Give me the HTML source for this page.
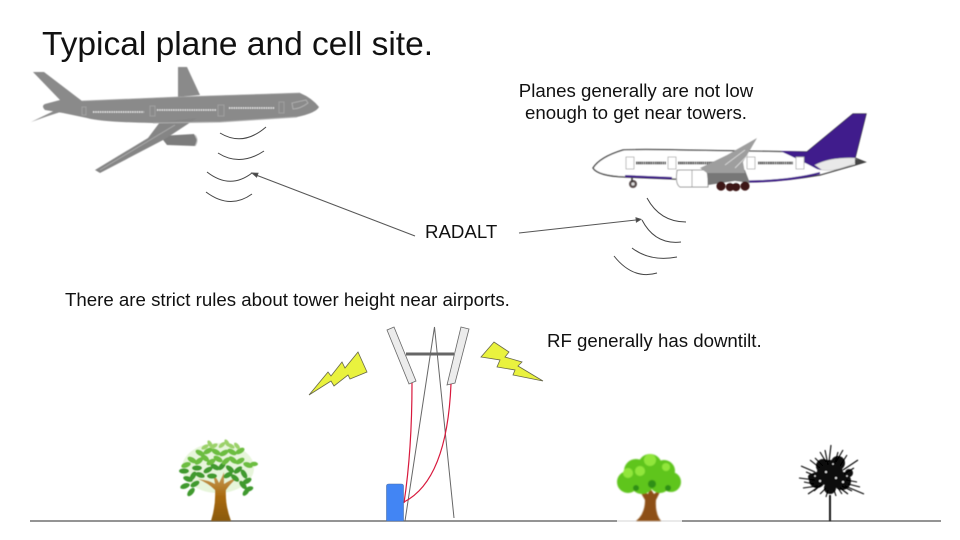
<!DOCTYPE html>
<html><head><meta charset="utf-8"><style>
html,body{margin:0;padding:0;background:#fff}
svg{display:block}
text{font-family:"Liberation Sans",sans-serif;fill:#111}
</style></head><body>
<svg width="960" height="540" viewBox="0 0 960 540" xmlns="http://www.w3.org/2000/svg">
<defs>
<filter id="b" x="-5%" y="-5%" width="110%" height="110%"><feGaussianBlur stdDeviation="0.45"/></filter>
<filter id="b2" x="-5%" y="-5%" width="110%" height="110%"><feGaussianBlur stdDeviation="0.8"/></filter>
<linearGradient id="trunk" x1="0" x2="0" y1="0" y2="1"><stop offset="0" stop-color="#c9a05c"/><stop offset=".5" stop-color="#a9690f"/><stop offset="1" stop-color="#8a5a10"/></linearGradient>
</defs>
<rect width="960" height="540" fill="#fff"/>
<text x="42" y="55" font-size="33.5">Typical plane and cell site.</text>
<text x="636" y="97" font-size="18.67" text-anchor="middle">Planes generally are not low</text>
<text x="636" y="119" font-size="18.67" text-anchor="middle">enough to get near towers.</text>
<text x="425" y="238" font-size="18.67">RADALT</text>
<text x="65" y="306" font-size="18.67">There are strict rules about tower height near airports.</text>
<text x="547" y="347" font-size="18.67">RF generally has downtilt.</text>

<!-- left plane -->
<g filter="url(#b)">
<path d="M33 72 L44 72 L82 101 L178 97 L300 93 Q312 98 319 107 Q316 113 297 117 L220 122 L153 123 Q100 122 87 118 L63 113 L45 110 Q41 106 45 104 L60 100 Z" fill="#8a8a8a"/>
<path d="M178 67 L187 67 L200 95 L178 97 Z" fill="#8a8a8a"/>
<path d="M43 105 L73 108 L48 116 L31 122 L58 109 Z" fill="#8a8a8a"/>
<path d="M160 136 L194 134 L197 140 L195 146 L167 145 Z" fill="#7c7c7c"/>
<path d="M197 118 L160 122 L148 138 L95 170 L100 173 L165 139 Z" fill="#858585"/>
<path d="M100 170 L155 137 L175 125" stroke="#a9a9a9" stroke-width="1" fill="none"/>
<path d="M195 135 Q199 140 195 146" stroke="#bbb" stroke-width="1" fill="none"/>
<path d="M93 112 H144 M157 110 H216 M229 108 H275" stroke="#f2f2f2" stroke-width="1.5" stroke-dasharray="1.4 .9" fill="none"/>
<path d="M82 107 h4 v8 h-4z M150 106 h5 v10 h-5z M218 105 h6 v11 h-6z M279 102 h5 v11 h-5z" stroke="#a5a5a5" stroke-width=".8" fill="none"/>
<path d="M293 109 L292 103 L306 100 L308 103 Q300 109 293 109Z" stroke="#b5b5b5" stroke-width=".8" fill="none"/>
<path d="M153 123 L220 122 L297 117" stroke="#b0b0b0" stroke-width="1" fill="none"/>
<path d="M82 101 L178 97 L300 93" stroke="#a5a5a5" stroke-width=".7" fill="none"/>
</g>

<!-- radio arcs -->
<g fill="none" stroke="#444" stroke-width="1">
<path d="M220 133 Q243 147 266 127"/>
<path d="M218 153 Q240 167 264 151"/>
<path d="M207 172 Q230 190 252 173"/>
<path d="M206 192 Q230 210 252 194"/>
<path d="M647 198 Q660 222 686 222"/>
<path d="M642 220 Q655 245 681 242"/>
<path d="M632 248 Q650 262 677 257"/>
<path d="M614 256 Q633 280 657 273"/>
</g>

<!-- arrows -->
<g stroke="#555" stroke-width="1" fill="#444">
<line x1="415" y1="236" x2="256" y2="175"/>
<path d="M252 173 L258 173.2 L256.6 177 Z"/>
<line x1="519" y1="233" x2="636" y2="220"/>
<path d="M641 219.3 L636 217.8 L636.4 222 Z"/>
</g>

<!-- right plane -->
<g filter="url(#b)">
<path d="M807 152 L853 114 L866 114 L855 158 L865 162 L855 165 L820 175 Q780 182 747 182 L625 177 Q598 176 593 168 Q600 157 623 150 Q640 149 680 150 L807 152Z" fill="#fff" stroke="#333" stroke-width="1.2"/>
<path d="M780 151 L807 152 L853 114 L866 114 L855 158 Q825 175 815 168 Q800 160 780 151Z" fill="#3f1a8c"/>
<path d="M815 165 Q830 157 855 158 L855 163 Q835 172 822 170 Z" fill="#e9e9e9" stroke="#bbb" stroke-width=".6"/>
<path d="M855 159 L866 162 L855 165 Z" fill="#444"/>
<path d="M625 176 L672 178 M745 181.5 Q790 181 820 173" stroke="#3f1a8c" stroke-width="2" fill="none"/>
<path d="M636 163 H666 M678 163 H720 M758 163 H793" stroke="#111" stroke-width="3" stroke-dasharray="1.3 .6" fill="none"/>
<path d="M626 157 h8 v12 h-8z M668 157 h8 v12 h-8z M747 157 h8 v12 h-8z M796 157 h8 v12 h-8z" fill="#fff" stroke="#aaa" stroke-width=".8"/>
<path d="M707 169 h40 v14 h-40z" fill="#fff" stroke="none"/>
<path d="M677 171 Q676 170 680 170 H705 Q708 172 708 178 V187 H680 Q675 184 677 171Z" fill="#fff" stroke="#999" stroke-width="1"/>
<path d="M692 170 V187" stroke="#999" stroke-width=".8"/>
<path d="M707 173 L725 165 L745 170 L750 183 L735 181 L708 185Z" fill="#777"/>
<path d="M700 168 L727 155 L757 138 L743 162 L745 173 L707 173Z" fill="#9e9e9e"/>
<path d="M725 165 L745 150 M735 168 L748 155" stroke="#d5d5d5" stroke-width="1" fill="none"/>
<circle cx="633" cy="184" r="4" fill="#5a5050"/><circle cx="633" cy="184" r="1.6" fill="#ddd"/>
<path d="M632 178 V182" stroke="#333" stroke-width="1.5"/>
<g fill="#3c1414"><circle cx="721" cy="186" r="4.6"/><circle cx="730" cy="187" r="4.2"/><circle cx="736" cy="187" r="4.2"/><circle cx="745" cy="186" r="4.6"/></g>
</g>

<!-- ground -->
<line x1="30" y1="521" x2="941" y2="521" stroke="#555" stroke-width="1.2"/>

<!-- tower -->
<polygon points="387,330 394,327 416,381 409,384" fill="#ececec" stroke="#666" stroke-width=".8"/>
<polygon points="461,327 469,329 455,383 447,385" fill="#ececec" stroke="#666" stroke-width=".8"/>
<line x1="406" y1="354" x2="454" y2="354" stroke="#666" stroke-width="3"/>
<path d="M405 521 L434.5 327 L454 518" fill="none" stroke="#666" stroke-width="1"/>
<path d="M412 383 Q412 450 404 503" fill="none" stroke="#d8183c" stroke-width="1.2"/>
<path d="M451 384 Q447 480 404 502" fill="none" stroke="#d8183c" stroke-width="1.2"/>
<path d="M386.5 521 V486 Q386.5 484 389 484 H401 Q403.5 484 403.5 486 V521Z" fill="#4285f4" stroke="#4a6fa8" stroke-width=".6"/>

<!-- lightning -->
<polygon points="309,395 328,372 331,376 342,362 345,368 358,352 367,372 350,379 348,375 334,386 331,381" fill="#e9f23e" stroke="#66664a" stroke-width=".8"/>
<polygon points="481,357 494,342 509,352 505,357 522,362 518,366 543,381 513,375 515,370 497,367 500,360" fill="#e9f23e" stroke="#66664a" stroke-width=".8"/>

<!-- tree 1 -->
<g filter="url(#b)">
<ellipse cx="218" cy="468" rx="36" ry="25" fill="#c9e8b0" opacity=".45"/>
<path d="M211 521 Q216 505 215 490 Q208 483 198 479 Q208 480 215 484 Q214 477 212 473 Q217 478 219 483 Q222 477 224 472 Q224 479 224 484 Q230 480 238 477 Q230 484 226 490 Q225 505 231 521Z" fill="url(#trunk)"/>
<g fill="#3f9a2f">
<ellipse cx="188" cy="479" rx="5" ry="2.6" transform="rotate(20 188 479)"/><ellipse cx="185" cy="486" rx="5" ry="2.6" transform="rotate(-20 185 486)"/><ellipse cx="191" cy="492" rx="5" ry="2.6" transform="rotate(-50 191 492)"/><ellipse cx="195" cy="484" rx="5" ry="2.6" transform="rotate(-30 195 484)"/><ellipse cx="193" cy="476" rx="5" ry="2.6" transform="rotate(-60 193 476)"/><ellipse cx="200" cy="475" rx="5" ry="2.6" transform="rotate(20 200 475)"/><ellipse cx="197" cy="468" rx="5" ry="2.6"/><ellipse cx="184" cy="471" rx="5" ry="2.6"/><ellipse cx="208" cy="470" rx="5" ry="2.6" transform="rotate(-30 208 470)"/><ellipse cx="215" cy="467" rx="5" ry="2.6" transform="rotate(30 215 467)"/><ellipse cx="222" cy="466" rx="5" ry="2.6" transform="rotate(-50 222 466)"/><ellipse cx="230" cy="469" rx="5" ry="2.6" transform="rotate(40 230 469)"/><ellipse cx="238" cy="470" rx="5" ry="2.6" transform="rotate(-40 238 470)"/><ellipse cx="244" cy="474" rx="5" ry="2.6" transform="rotate(60 244 474)"/><ellipse cx="247" cy="481" rx="5" ry="2.6" transform="rotate(-30 247 481)"/><ellipse cx="243" cy="485" rx="5" ry="2.6" transform="rotate(50 243 485)"/><ellipse cx="249" cy="489" rx="4.5" ry="2.4" transform="rotate(-20 249 489)"/><ellipse cx="246" cy="492" rx="4.5" ry="2.4" transform="rotate(-50 246 492)"/><ellipse cx="235" cy="478" rx="5" ry="2.6" transform="rotate(40 235 478)"/><ellipse cx="212" cy="476" rx="5" ry="2.6"/><ellipse cx="228" cy="475" rx="5" ry="2.6" transform="rotate(-30 228 475)"/>
</g>
<g fill="#6cbd3f">
<ellipse cx="186" cy="465" rx="5" ry="2.6" transform="rotate(-20 186 465)"/><ellipse cx="192" cy="460" rx="5" ry="2.6" transform="rotate(30 192 460)"/><ellipse cx="199" cy="461" rx="5" ry="2.6" transform="rotate(-40 199 461)"/><ellipse cx="205" cy="458" rx="5" ry="2.6" transform="rotate(40 205 458)"/><ellipse cx="211" cy="462" rx="5" ry="2.6" transform="rotate(-30 211 462)"/><ellipse cx="218" cy="459" rx="5" ry="2.6" transform="rotate(30 218 459)"/><ellipse cx="226" cy="461" rx="5" ry="2.6" transform="rotate(-40 226 461)"/><ellipse cx="233" cy="460" rx="5" ry="2.6" transform="rotate(40 233 460)"/><ellipse cx="240" cy="461" rx="5" ry="2.6" transform="rotate(-30 240 461)"/><ellipse cx="248" cy="465" rx="5" ry="2.6" transform="rotate(20 248 465)"/><ellipse cx="254" cy="464" rx="4" ry="2.2"/>
<ellipse cx="200" cy="453" rx="5" ry="2.6" transform="rotate(30 200 453)"/><ellipse cx="208" cy="451" rx="5" ry="2.6" transform="rotate(-30 208 451)"/><ellipse cx="216" cy="452" rx="5" ry="2.6" transform="rotate(30 216 452)"/><ellipse cx="224" cy="453" rx="5" ry="2.6" transform="rotate(-30 224 453)"/><ellipse cx="232" cy="452" rx="5" ry="2.6" transform="rotate(30 232 452)"/><ellipse cx="240" cy="451" rx="5" ry="2.6" transform="rotate(-30 240 451)"/>
</g>
<g fill="#9bd16a">
<ellipse cx="205" cy="447" rx="4" ry="2" transform="rotate(-30 205 447)"/><ellipse cx="210" cy="444" rx="4" ry="2" transform="rotate(60 210 444)"/><ellipse cx="214" cy="446" rx="4" ry="2" transform="rotate(-30 214 446)"/><ellipse cx="222" cy="445" rx="4" ry="2" transform="rotate(-40 222 445)"/><ellipse cx="227" cy="443" rx="4" ry="2" transform="rotate(60 227 443)"/><ellipse cx="231" cy="446" rx="4" ry="2" transform="rotate(30 231 446)"/><ellipse cx="237" cy="446" rx="4" ry="2" transform="rotate(50 237 446)"/>
</g>
</g>

<!-- tree 2 -->
<line x1="617" y1="521" x2="682" y2="521" stroke="#f2f2f2" stroke-width="1.6"/>
<g filter="url(#b2)">
<path d="M636 521 Q645 514 645 500 L638 488 L648 494 L650 488 L654 494 L662 488 L656 500 Q655 514 661 521Z" fill="#8d4f12"/>
<g fill="#5fc51e">
<circle cx="628" cy="482" r="11"/><circle cx="636" cy="471" r="12"/><circle cx="650" cy="466" r="12"/><circle cx="664" cy="471" r="11"/><circle cx="671" cy="482" r="10"/><circle cx="660" cy="482" r="11"/><circle cx="642" cy="482" r="12"/>
</g>
<g fill="#91e63a"><circle cx="628" cy="473" r="5"/><circle cx="650" cy="460" r="6"/><circle cx="640" cy="471" r="5"/><circle cx="666" cy="467" r="4"/></g>
<g fill="#2f8f14"><circle cx="652" cy="484" r="4"/><circle cx="668" cy="488" r="3"/><circle cx="636" cy="488" r="3"/></g>
</g>

<!-- tree 3 -->
<g filter="url(#b)">
<path d="M830 521 V495" stroke="#000" stroke-width="1.8"/>
<g fill="#0a0a0a">
<circle cx="830" cy="473" r="13"/><circle cx="817" cy="480" r="8"/><circle cx="842" cy="481" r="9"/><circle cx="823" cy="466" r="7"/><circle cx="838" cy="463" r="7"/><circle cx="830" cy="488" r="6"/><circle cx="849" cy="473" r="4"/><circle cx="811" cy="477" r="3"/>
</g>
<g stroke="#000" stroke-width="1.1" fill="none">
<path d="M831 445 L829 462 M825 450 L828 465 M838 452 L834 466 M801 466 L815 472 M799 478 L815 480 M803 488 L818 486 M808 494 L820 486 M858 460 L843 470 M864 494 L845 486 M857 482 L846 480 M820 494 L826 488 M848 494 L840 488 M815 458 L823 466 M847 455 L840 466 M806 472 L816 476 M810 460 L820 468 M820 452 L826 462 M843 450 L836 462 M854 468 L844 474 M860 487 L848 484 M852 491 L842 486 M804 482 L814 484 M814 491 L822 484 M826 497 L828 490 M836 496 L834 490 M842 494 L838 488"/>
</g>
<g fill="#fff"><circle cx="826" cy="472" r="1"/><circle cx="836" cy="478" r="1"/><circle cx="820" cy="481" r="1"/><circle cx="843" cy="482" r="1"/><circle cx="815" cy="476" r=".8"/><circle cx="833" cy="464" r=".8"/><circle cx="847" cy="476" r=".8"/></g>
</g>
</svg>
</body></html>
